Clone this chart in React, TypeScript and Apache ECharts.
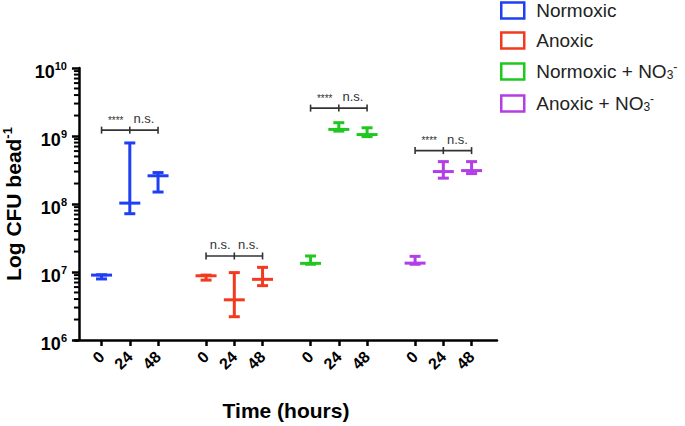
import { useEffect, useRef } from "react";
import * as echarts from "echarts";

const groups = ["Normoxic", "Anoxic", "Normoxic + NO3-", "Anoxic + NO3-"];
const groupColors = ["#1f3ff2", "#f23a1f", "#1fc81f", "#b23ee6"];
const times = ["0", "24", "48"];
const GROUP_STEP = 3.7;
const FIRST_POS = 0.8;

// [min, median, max] for t = 0, 24, 48
const normoxic = [
  [7.9e6, 9.0e6, 9.1e6],
  [7.2e7, 1.03e8, 7.9e8],
  [1.5e8, 2.6e8, 2.9e8],
];
const anoxic = [
  [7.6e6, 8.8e6, 9.0e6],
  [2.2e6, 3.9e6, 9.8e6],
  [6.3e6, 7.8e6, 1.17e7],
];
const normoxicNO3 = [
  [1.3e7, 1.34e7, 1.72e7],
  [1.18e9, 1.25e9, 1.57e9],
  [0.98e9, 1.05e9, 1.32e9],
];
const anoxicNO3 = [
  [1.3e7, 1.35e7, 1.7e7],
  [2.4e8, 3.0e8, 4.2e8],
  [2.8e8, 3.1e8, 4.2e8],
];
const groupValues = [normoxic, anoxic, normoxicNO3, anoxicNO3];

const bracketY = [1.22e9, 1.72e7, 2.57e9, 6.1e8];
const bracketLabels = [
  ["****", "n.s."],
  ["n.s.", "n.s."],
  ["****", "n.s."],
  ["****", "n.s."],
];

const yExponents = [6, 7, 8, 9, 10];
const minorMultipliers = [2, 3, 4, 5, 6, 7, 8, 9];

const FONT = "'Liberation Sans', Arial, Helvetica, sans-serif";

export default function App() {
  const ref = useRef<HTMLDivElement>(null);
  useEffect(() => {
    document.body.style.margin = "0";
    if (!ref.current) return;
    const chart = echarts.init(ref.current, undefined, { renderer: "svg" });

    const pos = (g: number, i: number) => FIRST_POS + g * GROUP_STEP + i;
    const positions: number[] = [];
    const posLabel: string[] = [];
    groups.forEach((_, g) =>
      times.forEach((t, i) => {
        positions.push(pos(g, i));
        posLabel.push(t);
      })
    );
    const xMax = pos(groups.length - 1, times.length - 1) + 0.9;
    const majorTicks = yExponents.map((e) => Math.pow(10, e));
    const minorTicks: number[] = [];
    yExponents.slice(0, -1).forEach((e) =>
      minorMultipliers.forEach((m) => minorTicks.push(m * Math.pow(10, e)))
    );

    const rangeSeries = groups.map((name, g) => ({
      type: "custom",
      name,
      clip: false,
      itemStyle: { color: groupColors[g] },
      encode: { x: 0, y: [1, 2, 3] },
      data: groupValues[g].map((v, i) => [pos(g, i), v[0], v[1], v[2]]),
      renderItem: (params: any, api: any) => {
        const x = api.value(0);
        const pMin = api.coord([x, api.value(1)]);
        const pMed = api.coord([x, api.value(2)]);
        const pMax = api.coord([x, api.value(3)]);
        const color = api.visual("color");
        const style = { stroke: color, lineWidth: 3 };
        const cap = 5.5;
        const med = 10.5;
        const hl = (p: number[], w: number) => ({
          type: "line",
          shape: { x1: p[0] - w, y1: p[1], x2: p[0] + w, y2: p[1] },
          style,
        });
        return {
          type: "group",
          children: [
            {
              type: "line",
              shape: { x1: pMin[0], y1: pMin[1], x2: pMax[0], y2: pMax[1] },
              style,
            },
            hl(pMin, cap),
            hl(pMax, cap),
            hl(pMed, med),
          ],
        };
      },
    }));

    const bracketSeries = {
      type: "custom",
      name: "significance",
      clip: false,
      silent: true,
      encode: { x: [0, 1, 2], y: 3 },
      data: groups.map((_, g) => [pos(g, 0), pos(g, 1), pos(g, 2), bracketY[g], g]),
      renderItem: (params: any, api: any) => {
        const y = api.value(3);
        const g = api.value(4);
        const a = api.coord([api.value(0), y]);
        const b = api.coord([api.value(1), y]);
        const c = api.coord([api.value(2), y]);
        const style = { stroke: "#333", lineWidth: 1.6 };
        const tick = (p: number[]) => ({
          type: "line",
          shape: { x1: p[0], y1: p[1] - 3.5, x2: p[0], y2: p[1] + 3.5 },
          style,
        });
        const labs = bracketLabels[g];
        const txt = (s: string, x: number) => ({
          type: "text",
          style: {
            text: s,
            x,
            y: a[1] - 5,
            align: "center",
            verticalAlign: "bottom",
            textAlign: "center",
            textVerticalAlign: "bottom",
            fontSize: s === "****" ? 10 : 13,
            fontFamily: FONT,
            fill: "#333",
          },
        });
        return {
          type: "group",
          children: [
            {
              type: "line",
              shape: { x1: a[0], y1: a[1], x2: c[0], y2: c[1] },
              style,
            },
            tick(a),
            tick(b),
            tick(c),
            txt(labs[0], (a[0] + b[0]) / 2),
            txt(labs[1], (b[0] + c[0]) / 2),
          ],
        };
      },
    };

    // minor log ticks of the y axis (2..9 × 10^n), placed through the axes' scales
    const minorTickSeries = {
      type: "custom",
      name: "minorTicks",
      clip: false,
      silent: true,
      z: 20,
      encode: { x: 0, y: 1 },
      data: minorTicks.map((v) => [0, v]),
      renderItem: (params: any, api: any) => {
        const p = api.coord([api.value(0), api.value(1)]);
        return {
          type: "group",
          children: [
            {
              type: "line",
              shape: { x1: p[0] - 5, y1: p[1], x2: p[0], y2: p[1] },
              style: { stroke: "#000", lineWidth: 2 },
            },
          ],
        };
      },
    };

    const legendName = (n: string) =>
      n.endsWith("NO3-") ? n.replace("NO3-", "NO{sub|3}{sup|-}") : n;

    chart.setOption({
      animation: false,
      grid: {
        left: 75,
        right: 188,
        top: 68,
        bottom: 86,
        outerBoundsMode: "none",
      },
      legend: {
        orient: "vertical",
        left: 500,
        top: 1,
        padding: 0,
        itemWidth: 23,
        itemHeight: 16,
        itemGap: 11,
        icon: "rect",
        data: groups.map((n, g) => ({
          name: n,
          itemStyle: {
            color: "rgba(0,0,0,0)",
            borderColor: groupColors[g],
            borderWidth: 2.5,
          },
        })),
        formatter: legendName,
        textStyle: {
          fontFamily: FONT,
          fontSize: 19,
          color: "#222",
          padding: [0, 0, 0, 7],
          lineHeight: 19,
          rich: {
            sub: { fontSize: 12, fontFamily: FONT, color: "#222", lineHeight: 19, padding: [7, 0, 0, 0] },
            sup: { fontSize: 12, fontFamily: FONT, color: "#222", lineHeight: 19, padding: [0, 0, 9, 0] },
          },
        },
      },
      xAxis: {
        type: "value",
        z: 10,
        min: -0.14,
        max: xMax,
        splitLine: { show: false },
        axisLine: { show: true, lineStyle: { color: "#000", width: 2.5 } },
        axisTick: {
          show: true,
          customValues: positions,
          length: 6,
          lineStyle: { color: "#000", width: 2.5 },
        },
        axisLabel: {
          customValues: positions,
          rotate: 45,
          margin: 14,
          fontFamily: FONT,
          fontWeight: "bold",
          fontSize: 16,
          color: "#000",
          formatter: (v: number) => {
            const i = positions.findIndex((p) => Math.abs(p - v) < 1e-6);
            return i >= 0 ? posLabel[i] : "";
          },
        },
        name: "Time (hours)",
        nameLocation: "middle",
        nameGap: 60,
        nameTextStyle: {
          fontFamily: FONT,
          fontWeight: "bold",
          fontSize: 21,
          color: "#000",
        },
      },
      yAxis: {
        type: "log",
        z: 10,
        logBase: 10,
        min: 1e6,
        max: 1e10,
        splitLine: { show: false },
        axisLine: { show: true, lineStyle: { color: "#000", width: 2.5 } },
        axisTick: {
          show: true,
          customValues: majorTicks,
          length: 7,
          lineStyle: { color: "#000", width: 2.5 },
        },
        axisLabel: {
          customValues: majorTicks,
          margin: 8,
          formatter: (v: number) => `{b|10}{e|${Math.round(Math.log10(v))}}`,
          rich: {
            b: { fontFamily: FONT, fontWeight: "bold", fontSize: 18, color: "#000", padding: [8, 0, 0, 0] },
            e: { fontFamily: FONT, fontWeight: "bold", fontSize: 11, color: "#000", padding: [0, 0, 5, 0] },
          },
        },
        name: "Log CFU bead{sup|-1}",
        nameLocation: "middle",
        nameGap: 41,
        nameTextStyle: {
          fontFamily: FONT,
          fontWeight: "bold",
          fontSize: 21,
          color: "#000",
          rich: {
            sup: { fontFamily: FONT, fontWeight: "bold", fontSize: 13, color: "#000", padding: [0, 0, 11, 0] },
          },
        },
      },
      series: [...rangeSeries, bracketSeries, minorTickSeries],
    });
    return () => chart.dispose();
  }, []);
  return <div ref={ref} style={{ width: 685, height: 426 }} />;
}
